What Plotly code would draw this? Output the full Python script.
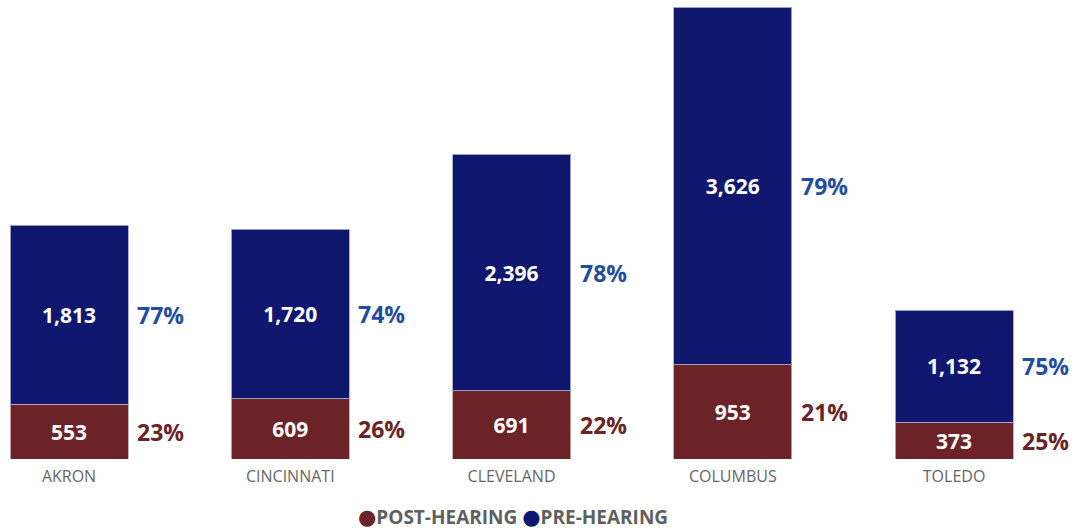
import plotly.graph_objects as go

cities = ["AKRON", "CINCINNATI", "CLEVELAND", "COLUMBUS", "TOLEDO"]
post_hearing = [553, 609, 691, 953, 373]
pre_hearing = [1813, 1720, 2396, 3626, 1132]

RED = "#6B2327"
NAVY = "#0F176F"
BLUE_TXT = "#1F4E9F"
GRAY = "#5F5F5F"
FONT = "Open Sans"

xs = list(range(len(cities)))
bw = 0.533
totals = [a + b for a, b in zip(post_hearing, pre_hearing)]

fig = go.Figure()
fig.add_bar(
    x=xs, y=post_hearing, width=bw, name="POST-HEARING",
    marker=dict(color=RED, line=dict(color="rgba(190,170,180,0.9)", width=1)),
    text=[f"{v:,}" for v in post_hearing], textposition="inside",
    insidetextanchor="middle", textangle=0,
    textfont=dict(color="white", size=21, family=FONT, weight="bold"),
    showlegend=False, hoverinfo="skip",
)
fig.add_bar(
    x=xs, y=pre_hearing, width=bw, name="PRE-HEARING",
    marker=dict(color=NAVY, line=dict(color="rgba(170,170,200,0.9)", width=1)),
    text=[f"{v:,}" for v in pre_hearing], textposition="inside",
    insidetextanchor="middle", textangle=0,
    textfont=dict(color="white", size=21, family=FONT, weight="bold"),
    showlegend=False, hoverinfo="skip",
)

anns = []
for i in xs:
    p = post_hearing[i]
    q = pre_hearing[i]
    t = totals[i]
    anns.append(dict(x=i + bw / 2, y=p / 2, xref="x", yref="y",
                     text=f"{round(p / t * 100)}%", showarrow=False,
                     xanchor="left", yanchor="middle", xshift=7,
                     font=dict(color=RED, size=23, family=FONT, weight="bold")))
    anns.append(dict(x=i + bw / 2, y=p + q / 2, xref="x", yref="y",
                     text=f"{round(q / t * 100)}%", showarrow=False,
                     xanchor="left", yanchor="middle", xshift=7,
                     font=dict(color=BLUE_TXT, size=23, family=FONT, weight="bold")))

anns.append(dict(
    x=0.478, y=-0.128, xref="paper", yref="paper", showarrow=False,
    xanchor="center", yanchor="middle",
    text=(f"<span style='color:{RED};font-size:21px;font-family:DejaVu Sans'>●</span>POST-HEARING "
          f"<span style='color:{NAVY};font-size:21px;font-family:DejaVu Sans'>●</span>PRE-HEARING"),
    font=dict(color=GRAY, size=19, family=FONT, weight="bold"),
))

fig.update_layout(
    barmode="stack",
    width=1074, height=529,
    margin=dict(l=0, r=0, t=7, b=70),
    paper_bgcolor="white", plot_bgcolor="white",
    xaxis=dict(range=[-0.312, 4.542], tickvals=xs, ticktext=cities,
               showgrid=False, zeroline=False, showline=False, ticks="",
               ticklabelstandoff=6,
               tickfont=dict(color="#666666", size=16, family=FONT)),
    yaxis=dict(range=[0, max(totals)], visible=False, showgrid=False),
    annotations=anns,
    uniformtext=dict(mode=False),
)

fig.write_html("out.html", config={"displayModeBar": False},
               post_script="document.body.style.margin='0';document.body.style.overflow='hidden';")
